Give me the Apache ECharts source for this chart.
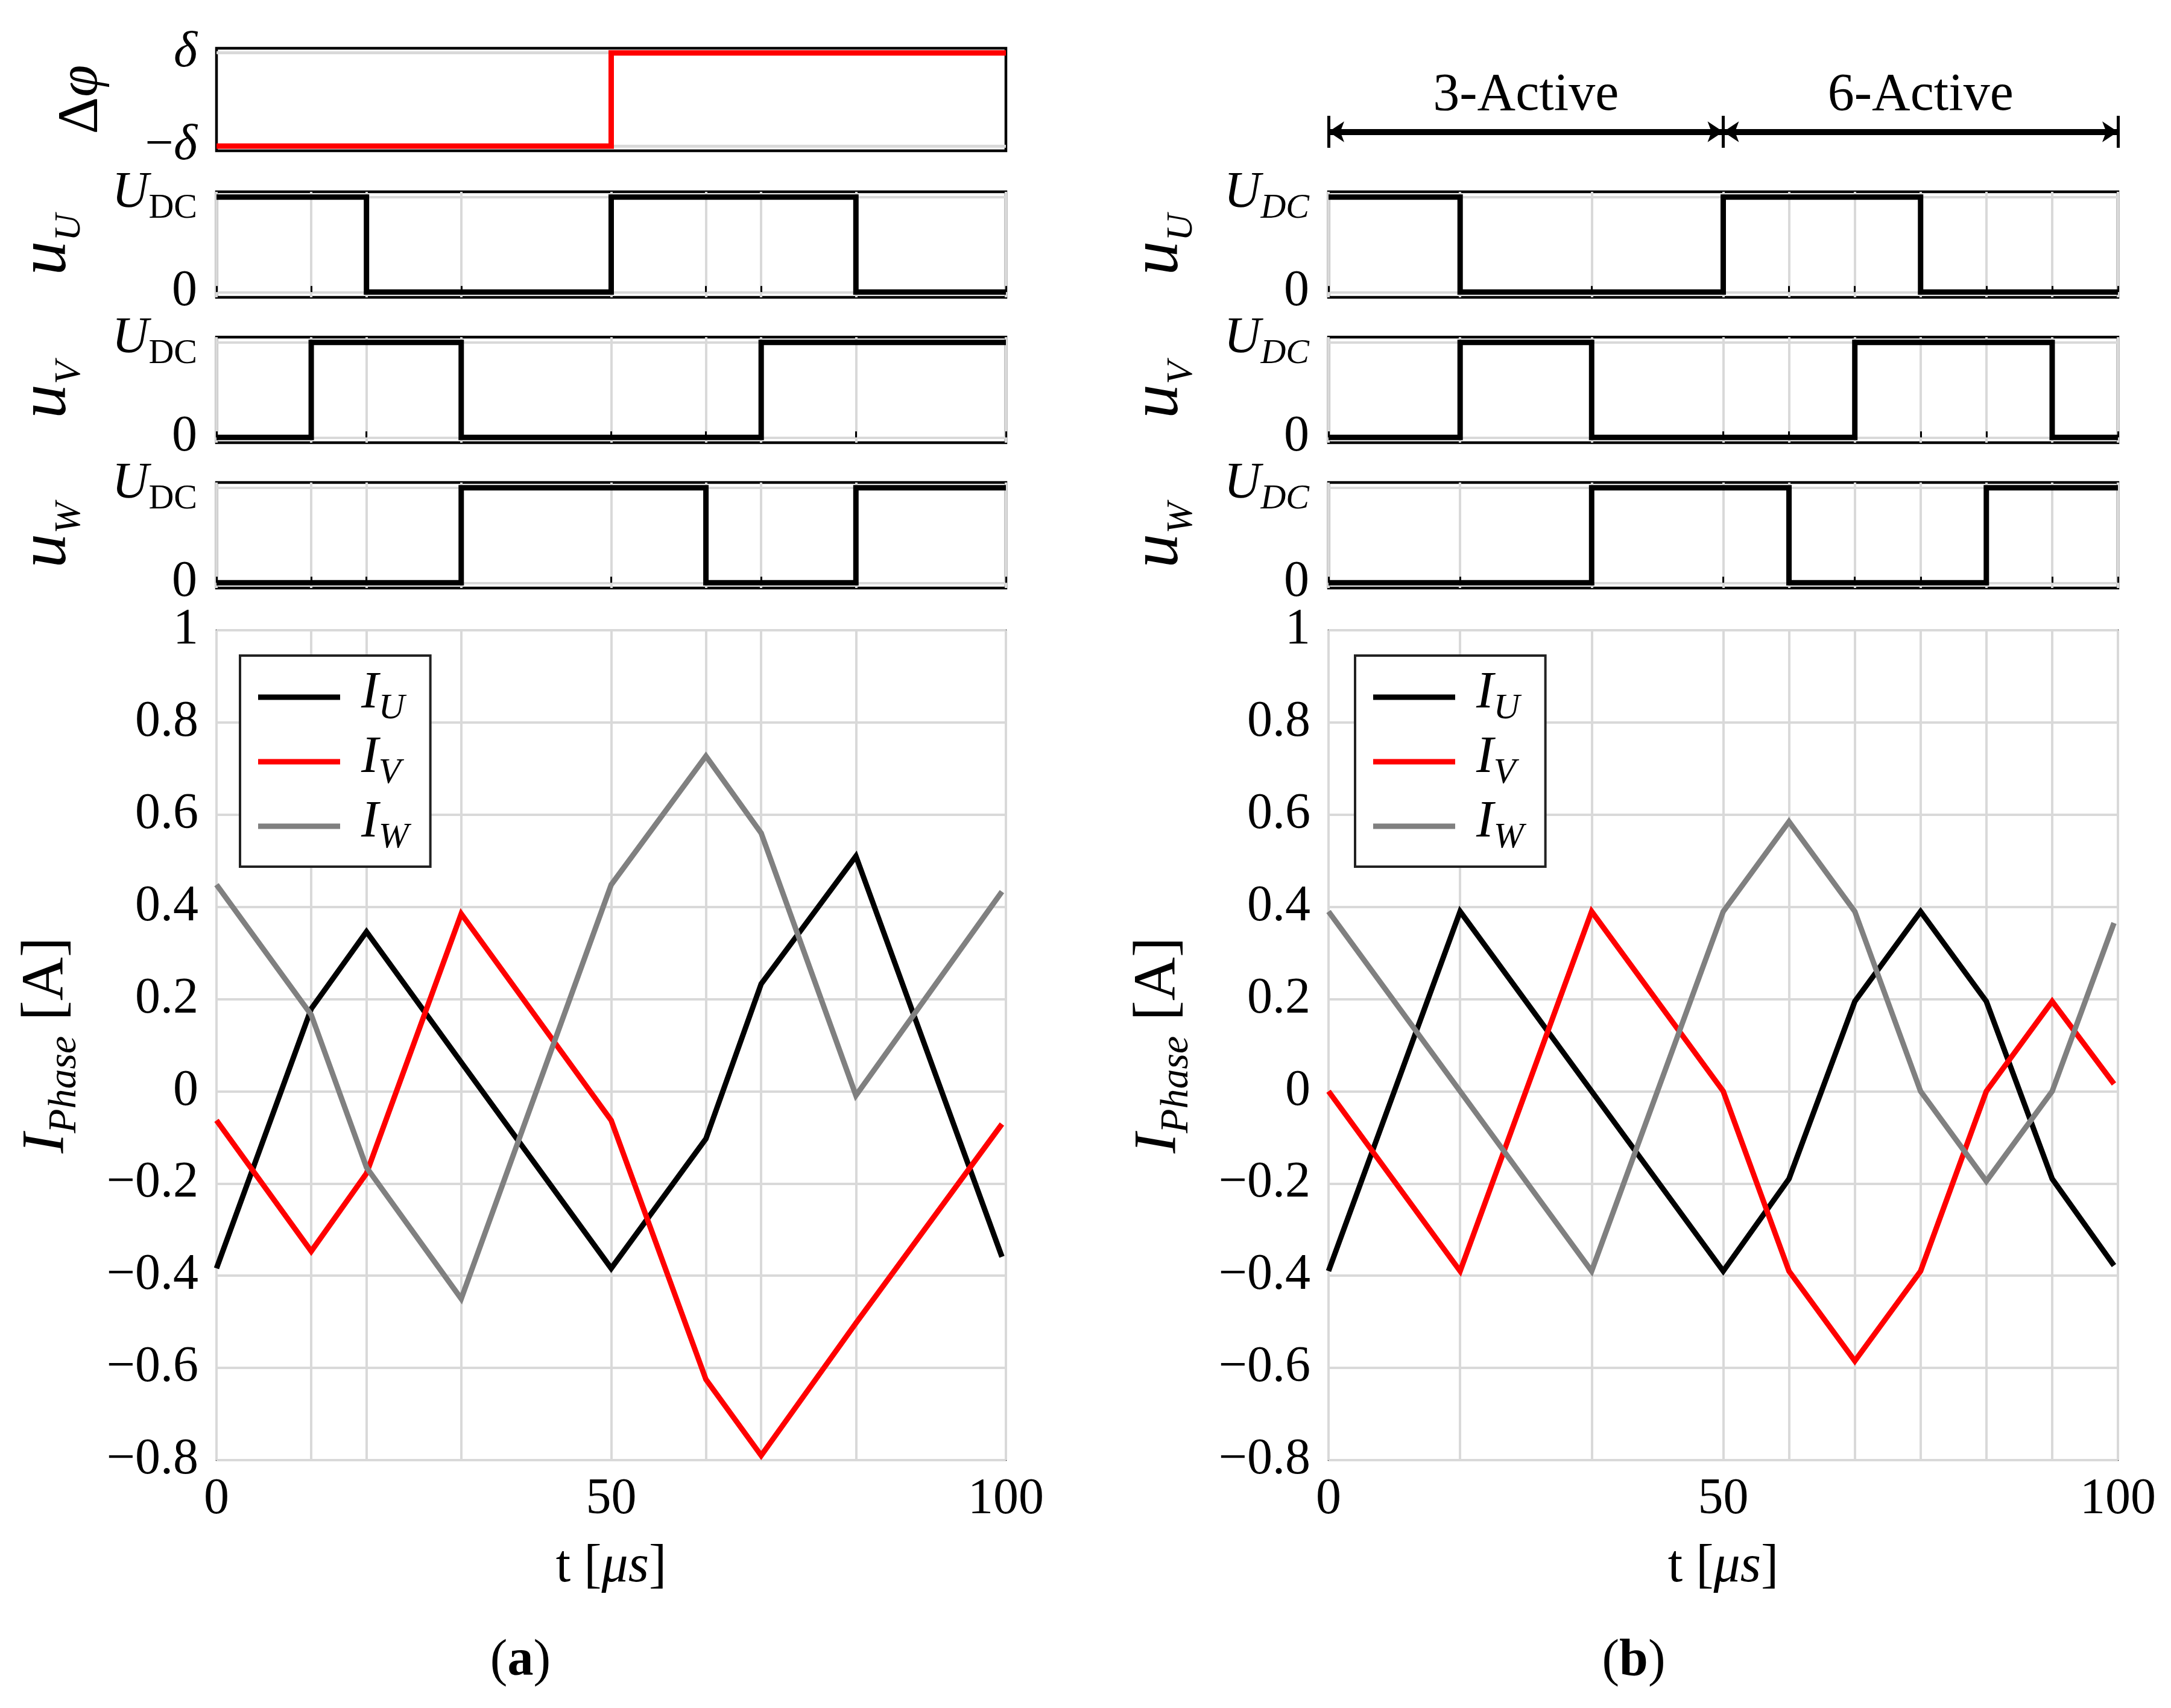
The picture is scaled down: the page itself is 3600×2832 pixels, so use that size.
<!DOCTYPE html>
<html><head><meta charset="utf-8">
<script src="https://cdn.jsdelivr.net/npm/echarts@6/dist/echarts.min.js"></script>
<style>html,body{margin:0;padding:0;background:#fff}#c{width:3600px;height:2832px}</style>
</head><body><div id="c"></div>
<script>
// ================= DATA =================
// (a) grid / tick positions [µs]
const tickTimesA = [0, 12, 19, 31, 50, 62, 69, 81, 100];
// (b) grid / tick positions [µs]
const tickTimesB = [0, 16.67, 33.33, 50, 58.33, 66.67, 75, 83.33, 91.67, 100];
const xLabelTicks = [0, 50, 100];

// (a) phase shift Δφ (in units of δ)
const dphiEdgesA = [0, 50];
const dphiLevelsA = [-1, 1];

// (a) switching states (1 = U_DC, 0 = 0)
const uUEdgesA = [0, 19, 50, 81];
const uULevelsA = [1, 0, 1, 0];
const uVEdgesA = [0, 12, 31, 69];
const uVLevelsA = [0, 1, 0, 1];
const uWEdgesA = [0, 31, 62, 81];
const uWLevelsA = [0, 1, 0, 1];

// (b) switching states
const uUEdgesB = [0, 16.67, 50, 75];
const uULevelsB = [1, 0, 1, 0];
const uVEdgesB = [0, 16.67, 33.33, 66.67, 91.67];
const uVLevelsB = [0, 1, 0, 1, 0];
const uWEdgesB = [0, 33.33, 58.33, 83.33];
const uWLevelsB = [0, 1, 0, 1];

// (a) phase currents [A]
const currentTimesA = [0, 12, 19, 31, 50, 62, 69, 81, 99.5];
const iUA = [-0.384, 0.179, 0.346, 0.063, -0.384, -0.103, 0.233, 0.510, -0.359];
const iVA = [-0.063, -0.347, -0.178, 0.385, -0.063, -0.625, -0.790, -0.503, -0.071];
const iWA = [0.448, 0.166, -0.165, -0.450, 0.448, 0.727, 0.560, -0.009, 0.433];

// (b) phase currents [A]
const currentTimesB = [0, 16.67, 33.33, 50, 58.33, 66.67, 75, 83.33, 91.67, 99.5];
const iUB = [-0.39, 0.39, 0.0, -0.39, -0.19, 0.195, 0.39, 0.195, -0.19, -0.378];
const iVB = [0.0, -0.39, 0.39, 0.0, -0.39, -0.585, -0.39, 0.0, 0.195, 0.016];
const iWB = [0.39, 0.0, -0.39, 0.39, 0.585, 0.39, 0.0, -0.195, 0.0, 0.365];

// (b) operating-mode annotation
const phaseNames = ['3-Active', '6-Active'];
const phaseBounds = [0, 50, 100];

const currentNames = ['IU', 'IV', 'IW'];
const currentColors = ['#000000', '#ff0000', '#808080'];

// ================= HELPERS =================
const FONT = '"Liberation Serif", "DejaVu Serif", serif';
const GRID_COLOR = '#d9d9d9';

function stepPoints(edges, levels, tEnd) {
  const pts = [];
  for (let i = 0; i < edges.length; i++) {
    const next = i + 1 < edges.length ? edges[i + 1] : tEnd;
    pts.push([edges[i], levels[i]], [next, levels[i]]);
  }
  return pts;
}
function zipXY(xs, ys) { return xs.map((x, i) => [x, ys[i]]); }
function fmtNum(v) {
  const r = Math.round(v * 10) / 10;
  return r < 0 ? '−' + Math.abs(r) : String(r);
}
function richSet(base, sub, subItalic) {
  const drop = Math.round(base - 0.8 * sub);
  return {
    n: {fontFamily: FONT, fontSize: base, color: '#000', verticalAlign: 'top'},
    i: {fontFamily: FONT, fontSize: base, fontStyle: 'italic', color: '#000', verticalAlign: 'top'},
    s: {fontFamily: FONT, fontSize: sub, fontStyle: subItalic === false ? 'normal' : 'italic', color: '#000', verticalAlign: 'top', padding: [drop, 0, 0, 0]}
  };
}

// ================= LAYOUT =================
const colLeft = [359, 2203];
const colWidth = 1309;
const uTops = [318, 559, 800];
const uH = 175;
const mainTop = 1045, mainH = 1376;

const grids = [];
const xAxes = [];
const yAxes = [];
const series = [];

function addGrid(g) { grids.push(g); return grids.length - 1; }

function topPanel(col, top, height, ticks, showVGrid) {
  const gi = addGrid({left: colLeft[col], top: top, width: colWidth, height: height,
    show: true, borderColor: '#000', borderWidth: 4.5, backgroundColor: 'transparent'});
  xAxes.push({
    gridIndex: gi, type: 'value', min: 0, max: 100,
    axisLine: {show: false},
    axisLabel: {show: false},
    axisTick: {show: showVGrid, inside: true, length: 10, customValues: ticks, lineStyle: {color: '#000', width: 3}},
    splitLine: {show: showVGrid, lineStyle: {color: GRID_COLOR, width: 4}}
  });
  return gi;
}

const tickRich = Object.assign({}, richSet(84, 58, true), {
  m: {fontFamily: FONT, fontSize: 84, color: '#000', verticalAlign: 'top'},
  d: {fontFamily: FONT, fontSize: 84, fontStyle: 'italic', color: '#000', verticalAlign: 'top'}
});
const tickRichA = Object.assign({}, richSet(84, 58, false), {
  m: tickRich.m, d: tickRich.d
});

function uYAxis(gi, label, rich) {
  yAxes.push({
    gridIndex: gi, type: 'value', min: -0.055, max: 1.055,
    axisLine: {show: false},
    axisTick: {show: false, customValues: [0, 1]},
    axisLabel: {customValues: [0, 1], margin: 32, rich: rich,
      formatter: v => v > 0.5 ? '{i|U}{s|DC}' : '{n|0}'},
    splitLine: {show: true, lineStyle: {color: GRID_COLOR, width: 4}},
    name: '{i|u}{s|' + label + '}', nameLocation: 'middle', nameRotate: 90, nameGap: 212,
    nameTextStyle: {rich: richSet(114, 62, true)}
  });
}

function stepSeries(gi, pts, color) {
  series.push({
    type: 'line', xAxisIndex: gi, yAxisIndex: gi, data: pts, symbol: 'none', showSymbol: false,
    silent: true, animation: false, z: 5,
    lineStyle: {color: color, width: 9, join: 'miter', cap: 'butt'}
  });
}

function mainPanel(col, ticks, times, cur) {
  const gi = addGrid({left: colLeft[col], top: mainTop, width: colWidth, height: mainH,
    show: true, borderColor: '#222', borderWidth: 2.5, backgroundColor: 'transparent'});
  xAxes.push({
    gridIndex: gi, type: 'value', min: 0, max: 100,
    axisLine: {show: false},
    axisTick: {show: false, customValues: ticks},
    axisLabel: {customValues: xLabelTicks, margin: 24, fontFamily: FONT, fontSize: 84, color: '#000'},
    splitLine: {show: true, lineStyle: {color: GRID_COLOR, width: 4}},
    name: '{n|t [}{i|μs}{n|]}', nameLocation: 'middle', nameGap: 134,
    nameTextStyle: {rich: richSet(88, 60, true)}
  });
  yAxes.push({
    gridIndex: gi, type: 'value', min: -0.8, max: 1, interval: 0.2,
    axisLine: {show: false}, axisTick: {show: false},
    axisLabel: {margin: 30, fontFamily: FONT, fontSize: 84, color: '#000', formatter: fmtNum},
    splitLine: {show: true, lineStyle: {color: GRID_COLOR, width: 4}},
    name: '{i|I}{s|Phase}{n| [A]}', nameLocation: 'middle', nameRotate: 90, nameGap: 218,
    nameTextStyle: {rich: richSet(100, 66, true)}
  });
  cur.forEach((vals, k) => {
    series.push({
      name: currentNames[k], type: 'line', xAxisIndex: gi, yAxisIndex: gi,
      data: zipXY(times, vals), symbol: 'none', showSymbol: false, animation: false, z: 5 + k,
      lineStyle: {color: currentColors[k], width: 9, join: 'miter'},
      itemStyle: {color: currentColors[k]}
    });
  });
  return gi;
}

// ---------- column (a) ----------
{
  const gi = topPanel(0, 80, 170, tickTimesA, false);
  yAxes.push({
    gridIndex: gi, type: 'value', min: -1.1, max: 1.1,
    axisLine: {show: false},
    axisTick: {show: false, customValues: [-1, 1]},
    axisLabel: {customValues: [-1, 1], margin: 32, rich: tickRich,
      formatter: v => v < 0 ? '{m|−}{d|δ}' : '{d|δ}'},
    splitLine: {show: true, lineStyle: {color: GRID_COLOR, width: 5}},
    name: '{n|Δ}{i|φ}', nameLocation: 'middle', nameRotate: 90, nameGap: 175,
    nameTextStyle: {rich: richSet(96, 60, true)}
  });
  stepSeries(gi, stepPoints(dphiEdgesA, dphiLevelsA, 100), '#ff0000');
}
[[uUEdgesA, uULevelsA, 'U'], [uVEdgesA, uVLevelsA, 'V'], [uWEdgesA, uWLevelsA, 'W']].forEach((d, k) => {
  const gi = topPanel(0, uTops[k], uH, tickTimesA, true);
  uYAxis(gi, d[2], tickRichA);
  stepSeries(gi, stepPoints(d[0], d[1], 100), '#000');
});
mainPanel(0, tickTimesA, currentTimesA, [iUA, iVA, iWA]);

// ---------- column (b) ----------
[[uUEdgesB, uULevelsB, 'U'], [uVEdgesB, uVLevelsB, 'V'], [uWEdgesB, uWLevelsB, 'W']].forEach((d, k) => {
  const gi = topPanel(1, uTops[k], uH, tickTimesB, true);
  uYAxis(gi, d[2], tickRich);
  stepSeries(gi, stepPoints(d[0], d[1], 100), '#000');
});
mainPanel(1, tickTimesB, currentTimesB, [iUB, iVB, iWB]);

// ---------- annotation (b) ----------
{
  const gi = addGrid({left: colLeft[1], top: 192, width: colWidth, height: 53});
  xAxes.push({gridIndex: gi, type: 'value', min: 0, max: 100, show: false});
  yAxes.push({gridIndex: gi, type: 'value', min: 0, max: 1, show: false});
  series.push({
    type: 'line', xAxisIndex: gi, yAxisIndex: gi, silent: true, animation: false,
    data: phaseBounds.map(t => [t, 0.5]), symbol: 'none', lineStyle: {opacity: 0},
    markLine: {
      silent: true, animation: false, symbol: ['arrow', 'arrow'], symbolSize: [26, 26],
      lineStyle: {color: '#000', width: 10, type: 'solid'},
      label: {show: true, position: 'insideMiddleTop', distance: 16, formatter: '{b}',
        fontFamily: FONT, fontSize: 88, color: '#000'},
      data: phaseNames.map((nm, k) => [
        {coord: [phaseBounds[k], 0.5], name: nm},
        {coord: [phaseBounds[k + 1], 0.5]}
      ])
    }
  });
  series.push({
    type: 'line', xAxisIndex: gi, yAxisIndex: gi, silent: true, animation: false,
    data: [], symbol: 'none',
    markLine: {
      silent: true, animation: false, symbol: 'none',
      lineStyle: {color: '#000', width: 5, type: 'solid'},
      label: {show: false},
      data: phaseBounds.map(t => ({xAxis: t}))
    }
  });
}

const legendRich = richSet(86, 60, true);
legendRich.i = Object.assign({}, legendRich.i, {padding: [0, 0, 0, 30]});

const legendBase = {
  orient: 'vertical', top: 1087, data: currentNames,
  icon: 'rect', itemWidth: 136, itemHeight: 9, itemGap: 9,
  padding: [20, 36, 18, 30],
  backgroundColor: '#fff', borderColor: '#222', borderWidth: 4, borderRadius: 0,
  selectedMode: false,
  formatter: name => '{i|I}{s|' + name.slice(1) + '}',
  textStyle: {rich: legendRich}
};

const option = {
  backgroundColor: '#fff',
  animation: false,
  textStyle: {fontFamily: FONT},
  grid: grids,
  xAxis: xAxes,
  yAxis: yAxes,
  legend: [
    Object.assign({}, legendBase, {left: 398}),
    Object.assign({}, legendBase, {left: 2247})
  ],
  graphic: [
    {type: 'text', x: 863, y: 2755, style: {text: '({b|a})', align: 'center', verticalAlign: 'middle',
      fontFamily: FONT, fontSize: 86, fill: '#000',
      rich: {b: {fontFamily: FONT, fontSize: 86, fontWeight: 'bold', fill: '#000'}}}},
    {type: 'text', x: 2709, y: 2755, style: {text: '({b|b})', align: 'center', verticalAlign: 'middle',
      fontFamily: FONT, fontSize: 86, fill: '#000',
      rich: {b: {fontFamily: FONT, fontSize: 86, fontWeight: 'bold', fill: '#000'}}}}
  ],
  series: series
};

const chart = echarts.init(document.getElementById('c'), null, {renderer: 'canvas', width: 3600, height: 2832});
chart.setOption(option);
</script>
</body></html>
